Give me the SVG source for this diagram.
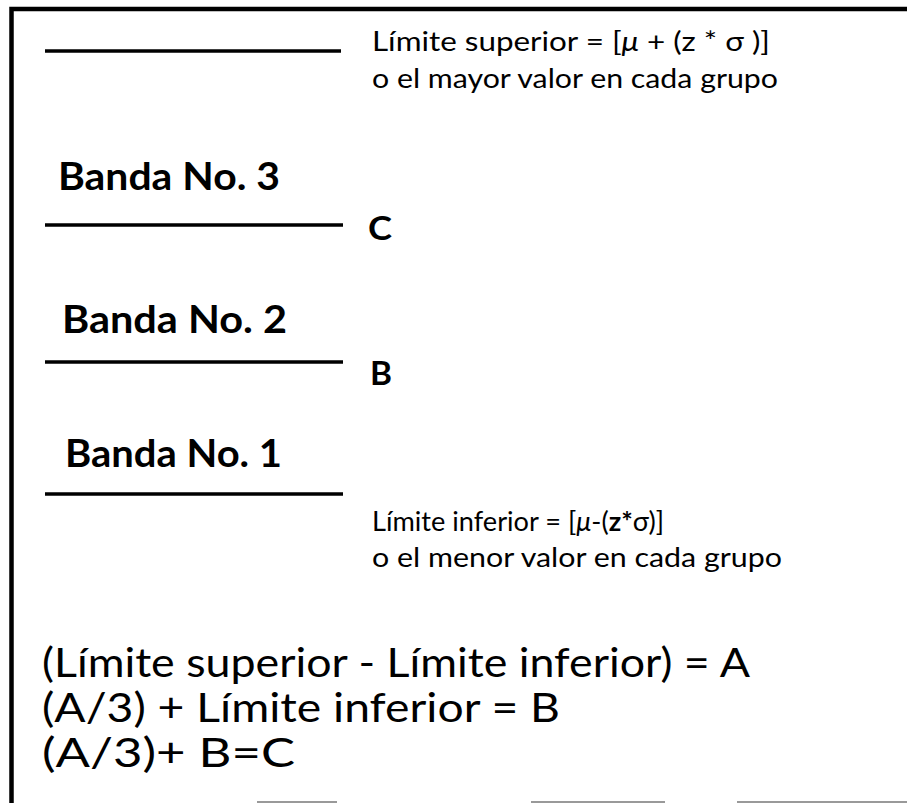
<svg xmlns="http://www.w3.org/2000/svg" width="907" height="803" viewBox="0 0 907 803">
<style>
.body{font-family:Lato,"Open Sans","Liberation Sans",sans-serif;font-size:27px;fill:#000}
.band{font-family:Lato,"Open Sans","Liberation Sans",sans-serif;font-size:38px;font-weight:bold;fill:#000}
.lbl{font-family:Lato,"Open Sans","Liberation Sans",sans-serif;font-size:32px;font-weight:bold;fill:#000}
.formula{font-family:Lato,"Open Sans","Liberation Sans",sans-serif;font-size:40px;fill:#000}
.rule{stroke:#000;stroke-width:3.5;fill:none}
.frame{stroke:#000;stroke-width:4.5;fill:none}
.edge{stroke:#999;stroke-width:2;fill:none}
</style>
<rect width="907" height="803" fill="#fff"/>
<g id="frame">
<path class="frame" d="M11.5,803 V9 H907"/>
<line class="edge" x1="257" y1="802" x2="337" y2="802"/>
<line class="edge" x1="531" y1="802" x2="665" y2="802"/>
<line class="edge" x1="737" y1="802" x2="907" y2="802"/>
</g>
<g id="connectors">
<line class="rule" x1="45" y1="51" x2="341" y2="51"/>
<line class="rule" x1="45" y1="225" x2="343" y2="225"/>
<line class="rule" x1="45" y1="362" x2="343" y2="362"/>
<line class="rule" x1="45" y1="494" x2="343" y2="494"/>
</g>
<g id="upper-limit">
<text class="body" x="372" y="51" textLength="398" lengthAdjust="spacingAndGlyphs">Límite superior = [<tspan font-style="italic">μ</tspan> + (z * σ )]</text>
<text class="body" x="372" y="88" textLength="406" lengthAdjust="spacingAndGlyphs">o el mayor valor en cada grupo</text>
</g>
<g id="band3">
<text class="band" x="58" y="190" textLength="222" lengthAdjust="spacingAndGlyphs">Banda No. 3</text>
</g>
<g id="label-c">
<text class="lbl" x="368" y="240" textLength="24" lengthAdjust="spacingAndGlyphs">C</text>
</g>
<g id="band2">
<text class="band" x="62" y="333" textLength="225" lengthAdjust="spacingAndGlyphs">Banda No. 2</text>
</g>
<g id="label-b">
<text class="lbl" x="370" y="385" textLength="22" lengthAdjust="spacingAndGlyphs">B</text>
</g>
<g id="band1">
<text class="band" x="65" y="467" textLength="217" lengthAdjust="spacingAndGlyphs">Banda No. 1</text>
</g>
<g id="lower-limit">
<text class="body" x="372" y="531" textLength="292" lengthAdjust="spacingAndGlyphs">Límite inferior = [<tspan font-style="italic">μ</tspan>-(<tspan font-weight="bold">z*</tspan>σ)]</text>
<text class="body" x="372" y="567" textLength="410" lengthAdjust="spacingAndGlyphs">o el menor valor en cada grupo</text>
</g>
<g id="formulas">
<text class="formula" x="42" y="677" textLength="708" lengthAdjust="spacingAndGlyphs">(Límite superior - Límite inferior) = A</text>
<text class="formula" x="42" y="722" textLength="518" lengthAdjust="spacingAndGlyphs">(A/3) + Límite inferior = B</text>
<text class="formula" x="42" y="767" textLength="253" lengthAdjust="spacingAndGlyphs">(A/3)+ B=C</text>
</g>
</svg>
